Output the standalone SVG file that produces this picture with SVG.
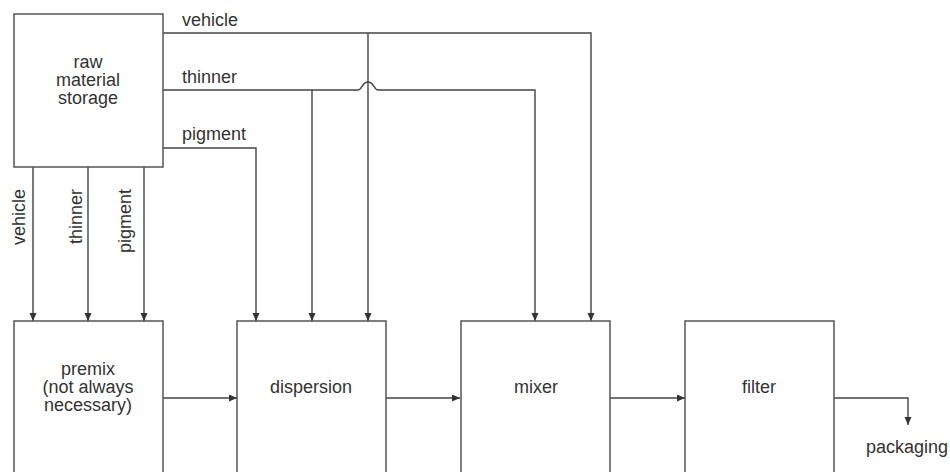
<svg xmlns="http://www.w3.org/2000/svg" width="950" height="472" viewBox="0 0 950 472">
<style>
.box{fill:#fff;stroke:#555;stroke-width:1.5}
.ln{fill:none;stroke:#444;stroke-width:1.4}
.t{font-family:"Liberation Sans",Arial,sans-serif;font-size:18px;fill:#333}
.c{text-anchor:middle}
</style>
<defs>
<marker id="ah" markerUnits="userSpaceOnUse" markerWidth="9" markerHeight="8" refX="8" refY="3.5" orient="auto">
<path d="M0,0 L8,3.5 L0,7 z" fill="#333"/>
</marker>
</defs>
<rect width="950" height="472" fill="#fff"/>
<g id="connectors">
<path class="ln" d="M163,33 H591 V321" marker-end="url(#ah)"/>
<path class="ln" d="M368,33 V321" marker-end="url(#ah)"/>
<path class="ln" d="M163,90 H358 C362,90 362,82 368,82 C374,82 374,90 378,90 H535 V321" marker-end="url(#ah)"/>
<path class="ln" d="M312,90 V321" marker-end="url(#ah)"/>
<path class="ln" d="M163,148 H256 V321" marker-end="url(#ah)"/>
<path class="ln" d="M33,167 V321" marker-end="url(#ah)"/>
<path class="ln" d="M88,167 V321" marker-end="url(#ah)"/>
<path class="ln" d="M144,167 V321" marker-end="url(#ah)"/>
<path class="ln" d="M160,398 H237" marker-end="url(#ah)"/>
<path class="ln" d="M386,398 H460" marker-end="url(#ah)"/>
<path class="ln" d="M608,398 H685" marker-end="url(#ah)"/>
<path class="ln" d="M834,398 H908 V425" marker-end="url(#ah)"/>
<text class="t" x="182" y="26">vehicle</text>
<text class="t" x="182" y="83">thinner</text>
<text class="t" x="182" y="140">pigment</text>
<text class="t" transform="translate(25,189) rotate(-90)" text-anchor="end">vehicle</text>
<text class="t" transform="translate(82,189) rotate(-90)" text-anchor="end">thinner</text>
<text class="t" transform="translate(131,189) rotate(-90)" text-anchor="end">pigment</text>
<text class="t c" x="907" y="453">packaging</text>
</g>
<g id="storage">
<rect class="box" x="14" y="14" width="149" height="153"/>
<text class="t c" x="88" y="68">raw</text>
<text class="t c" x="88" y="86">material</text>
<text class="t c" x="88" y="104">storage</text>
</g>
<g id="premix">
<rect class="box" x="14" y="321" width="149" height="170"/>
<text class="t c" x="88" y="375">premix</text>
<text class="t c" x="88" y="393">(not always</text>
<text class="t c" x="88" y="411">necessary)</text>
</g>
<g id="dispersion">
<rect class="box" x="237" y="321" width="149" height="170"/>
<text class="t c" x="311" y="393">dispersion</text>
</g>
<g id="mixer">
<rect class="box" x="461" y="321" width="149" height="170"/>
<text class="t c" x="536" y="393">mixer</text>
</g>
<g id="filter">
<rect class="box" x="685" y="321" width="149" height="170"/>
<text class="t c" x="759" y="393">filter</text>
</g>
</svg>
